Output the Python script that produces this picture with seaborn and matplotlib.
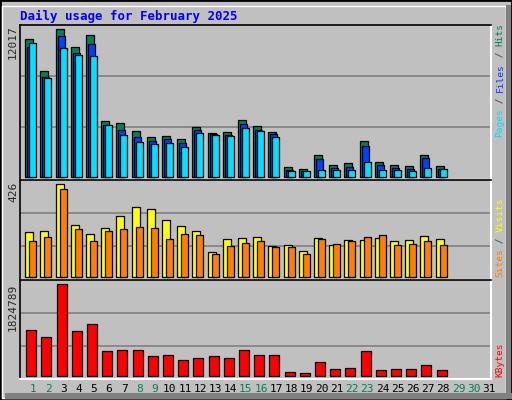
import matplotlib
matplotlib.use("Agg")
import matplotlib.pyplot as plt
import seaborn as sns
import numpy as np
from matplotlib.patches import Rectangle

days = list(range(1, 29))
hits = [11201, 8592, 12017, 10549, 11528, 4513, 4350, 3698, 3208, 3290, 3045, 4024, 3535, 3616,
        4595, 4106, 3616, 761, 598, 1740, 924, 1088, 2882, 1169, 924, 843, 1740, 843]
files = [10549, 8103, 11447, 10060, 10794, 4187, 3779, 3208, 2882, 3045, 2719, 3779, 3453, 3372,
         4269, 3779, 3453, 517, 435, 1414, 680, 761, 2474, 924, 680, 598, 1495, 598]
pages = [10876, 8021, 10468, 9897, 9816, 4187, 3372, 2801, 2637, 2719, 2393, 3535, 3372, 3290,
         3943, 3698, 3208, 435, 435, 517, 517, 517, 1169, 517, 517, 435, 680, 598]
visits = [205, 209, 426, 237, 195, 223, 278, 320, 311, 260, 232, 209, 112, 172,
          177, 181, 140, 145, 117, 177, 145, 168, 168, 177, 163, 168, 186, 172]
sites = [163, 181, 403, 218, 163, 209, 218, 228, 223, 172, 195, 191, 103, 140,
         154, 163, 135, 135, 103, 172, 149, 163, 181, 191, 145, 149, 163, 145]
kbytes = [905733, 765877, 1824789, 885753, 1025609, 486165, 506145, 506145, 386268, 406248,
          306351, 346310, 386268, 346310, 506145, 406248, 406248, 66598, 46619, 266392,
          126536, 146516, 486165, 106557, 126536, 126536, 206454, 106557]
tick_days = list(range(1, 32))
weekend = [1, 2, 8, 9, 15, 16, 22, 23, 29, 30]

sns.set_style("white")
plt.rcParams['font.family'] = ['DejaVu Sans Mono']
BG = "#C0C0C0"
fig = plt.figure(figsize=(5.12, 4.0), dpi=100, facecolor=BG)

# frame
fig.patches.append(Rectangle((0, 0), 1, 1, transform=fig.transFigure, fill=False, ec="black", lw=2))
fig.patches.append(Rectangle((2/512, 2/400), 1-8/512, 1-8/400, transform=fig.transFigure, fill=False, ec="white", lw=1))
fig.patches.append(Rectangle((5/512, 1/400), 1-5/512, 6/400, transform=fig.transFigure, fc="#808080", ec="none"))
fig.patches.append(Rectangle((1-6/512, 1/400), 5/512, 1-6/400, transform=fig.transFigure, fc="#808080", ec="none"))

L, W = 20/512, 471/512
ax1 = fig.add_axes([L, 1-180/400, W, 155/400])
ax2 = fig.add_axes([L, 1-280/400, W, 100/400])
ax3 = fig.add_axes([L, 1-379/400, W, 99/400])

slot = 471/31
def pos(off_px, w_px):
    return [d - 1 + (off_px + w_px/2)/slot for d in days]

def bars(ax, off, w, vals, color):
    sns.barplot(x=pos(off, w), y=vals, native_scale=True, width=w/slot, color=color,
                saturation=1, edgecolor="black", linewidth=0.9, ax=ax)

bars(ax1, 5.3, 8, hits, "#00805C")
bars(ax1, 7.3, 7, files, "#0040FF")
bars(ax1, 9.3, 7, pages, "#00E0FF")
bars(ax2, 5.3, 8, visits, "#FFFF00")
bars(ax2, 9.3, 7, sites, "#FF8000")
bars(ax3, 6.3, 10, kbytes, "#FF0000")

lims = [(-270, 12370), (-15, 446), (-66000, 1912700)]
grids = [(4027, 8185), (140, 292), (593600, 1247000)]
for ax, lim, g in zip([ax1, ax2, ax3], lims, grids):
    ax.set_facecolor(BG)
    ax.set_xlim(0, 31)
    ax.set_ylim(*lim)
    for gv in g:
        ax.axhline(gv, color="#808080", lw=1.2, zorder=0)
    ax.set_xticks([]); ax.set_yticks([])
    ax.set_xlabel(""); ax.set_ylabel("")
    for s in ["top", "left"]:
        ax.spines[s].set_color("black"); ax.spines[s].set_linewidth(1.2)
    for s in ["bottom", "right"]:
        ax.spines[s].set_color("white"); ax.spines[s].set_linewidth(1.5)

fig.text(20/512, 1-16/400, "Daily usage for February 2025", color="#0000FF",
         fontsize=9, fontweight="bold", va="center", ha="left")
fig.text(13/512, 1-42/400, "12017", rotation=90, fontsize=8, va="center", ha="center")
fig.text(13/512, 1-192/400, "426", rotation=90, fontsize=8, va="center", ha="center")
fig.text(13/512, 1-307/400, "1824789", rotation=90, fontsize=8, va="center", ha="center")

FS = 6.8
ADV = 0.602 * FS * 100 / 72
def vlabel(parts, ybottom_px):
    y = ybottom_px
    for txt, col in parts:
        n = len(txt)
        fig.text(500/512, 1-(y - n*ADV/2)/400, txt, rotation=90, fontsize=FS, color=col,
                 va="center", ha="center")
        y -= n * ADV

vlabel([("Pages", "#00E0FF"), (" / ", "#404040"), ("Files", "#0040FF"), (" / ", "#404040"), ("Hits", "#00805C")], 137)
vlabel([("Sites", "#FF8000"), (" / ", "#404040"), ("Visits", "#FFFF00")], 277)
vlabel([("KBytes", "#FF0000")], 377)

for d in tick_days:
    x = L + (d - 1 + 0.86) * slot / 512
    fig.text(x, 1-389/400, str(d), fontsize=8, ha="center", va="center",
             color="#00805C" if d in weekend else "black")

fig.savefig("out.png", dpi=100, facecolor=BG)
